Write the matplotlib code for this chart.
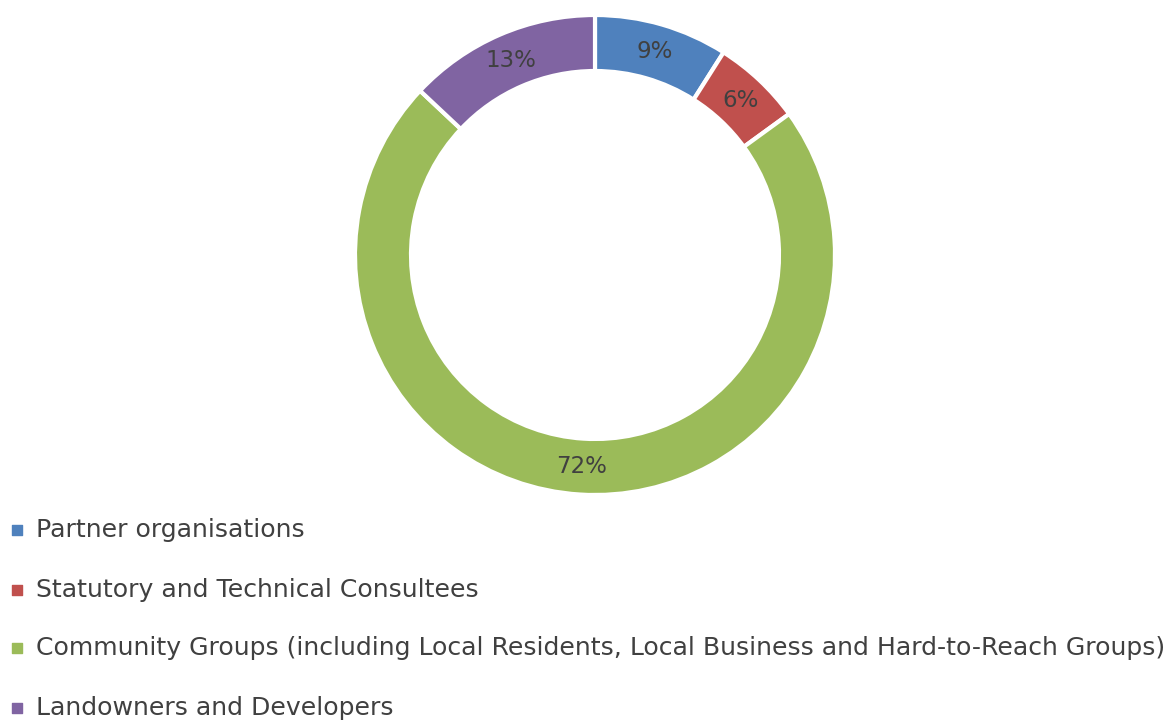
import matplotlib.pyplot as plt

# Stakeholder groups and their shares (%)
categories = [
    "Partner organisations",
    "Statutory and Technical Consultees",
    "Community Groups (including Local Residents, Local Business and Hard-to-Reach Groups)",
    "Landowners and Developers",
]
shares = [9, 6, 72, 13]
colors = ["#4F81BD", "#C0504D", "#9BBB59", "#8064A2"]

plt.rcParams['font.family'] = ['DejaVu Sans']
text_color = "#404040"

fig = plt.figure(figsize=(11.74, 7.2), dpi=100)
ax = fig.add_axes([0, 0, 1, 1])

wedges, _, autotexts = ax.pie(
    shares, colors=colors, startangle=90, counterclock=False,
    center=(595, 465), radius=240, frame=True,
    autopct='%d%%', pctdistance=0.885,
    wedgeprops=dict(width=56, edgecolor='white', linewidth=3),
    textprops=dict(color=text_color, fontsize=16.5),
)
ax.set_xlim(0, 1174)
ax.set_ylim(0, 720)
ax.set_aspect('equal')
ax.axis('off')

# legend below the donut
leg_y = [530, 590, 648, 708]
for name, col, y in zip(categories, colors, leg_y):
    ax.scatter([17], [720 - y], marker='s', s=45, color=col)
    ax.text(36, 720 - y, name, color=text_color, fontsize=18.1, va='center', ha='left')

fig.savefig("out.png", dpi=100)
